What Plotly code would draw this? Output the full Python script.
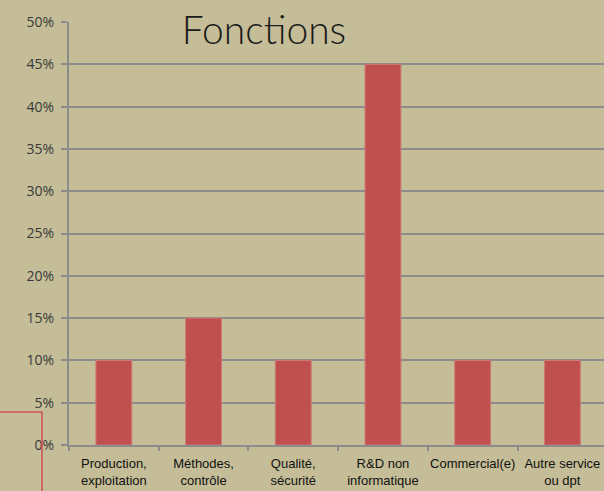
import plotly.graph_objects as go

categories = ["Production,<br>exploitation", "Méthodes,<br>contrôle", "Qualité,<br>sécurité",
              "R&D non<br>informatique", "Commercial(e)", "Autre service<br>ou dpt"]
values = [0.10, 0.15, 0.10, 0.45, 0.10, 0.10]
y_ticks = [0, 0.05, 0.10, 0.15, 0.20, 0.25, 0.30, 0.35, 0.40, 0.45, 0.50]

BG = "#C4BD97"
BAR = "#C0504D"
GRID = "#8C8C8C"

fig = go.Figure(go.Bar(
    x=categories, y=values, width=0.4,
    marker=dict(color=BAR, line=dict(color="#D07A78", width=1)),
))

fig.update_layout(
    width=604, height=491,
    paper_bgcolor=BG, plot_bgcolor=BG,
    margin=dict(l=69, r=0, t=22, b=46, autoexpand=False),
    showlegend=False,
    title=dict(text="Fonctions", x=0.437, xanchor="center", xref="container",
               y=1 - 30 / 491, yanchor="middle", yref="container",
               font=dict(family="Lato", weight=300, size=39, color="#1a1a1a")),
    xaxis=dict(type="category", range=[-0.5, 5.464], automargin=False, tickangle=0,
               showgrid=False, showline=True, linecolor=GRID, linewidth=2,
               ticks="outside", tickson="boundaries", ticklen=4, tickcolor=GRID, tickwidth=2,
               ticklabelstandoff=5,
               tickfont=dict(family="Liberation Sans, Arial", size=13, color="#111111")),
    yaxis=dict(range=[0, 0.5], tickvals=y_ticks, tickformat=".0%", automargin=False,
               showgrid=True, gridcolor=GRID, gridwidth=1.5,
               showline=True, linecolor=GRID, linewidth=2,
               ticks="outside", ticklen=6, tickcolor=GRID, tickwidth=1.5,
               zeroline=False, ticklabelstandoff=4,
               tickfont=dict(family="Open Sans", size=14, color="#3a3a3a")),
    shapes=[dict(type="path", xref="paper", yref="paper",
                 path="M -0.129 0.078 L -0.0505 0.078 L -0.0505 -0.11",
                 line=dict(color="#D0505A", width=1.5))],
)

fig.write_html("out.html", config={"displayModeBar": False},
               post_script="document.body.style.margin='0';document.body.style.overflow='hidden';")
